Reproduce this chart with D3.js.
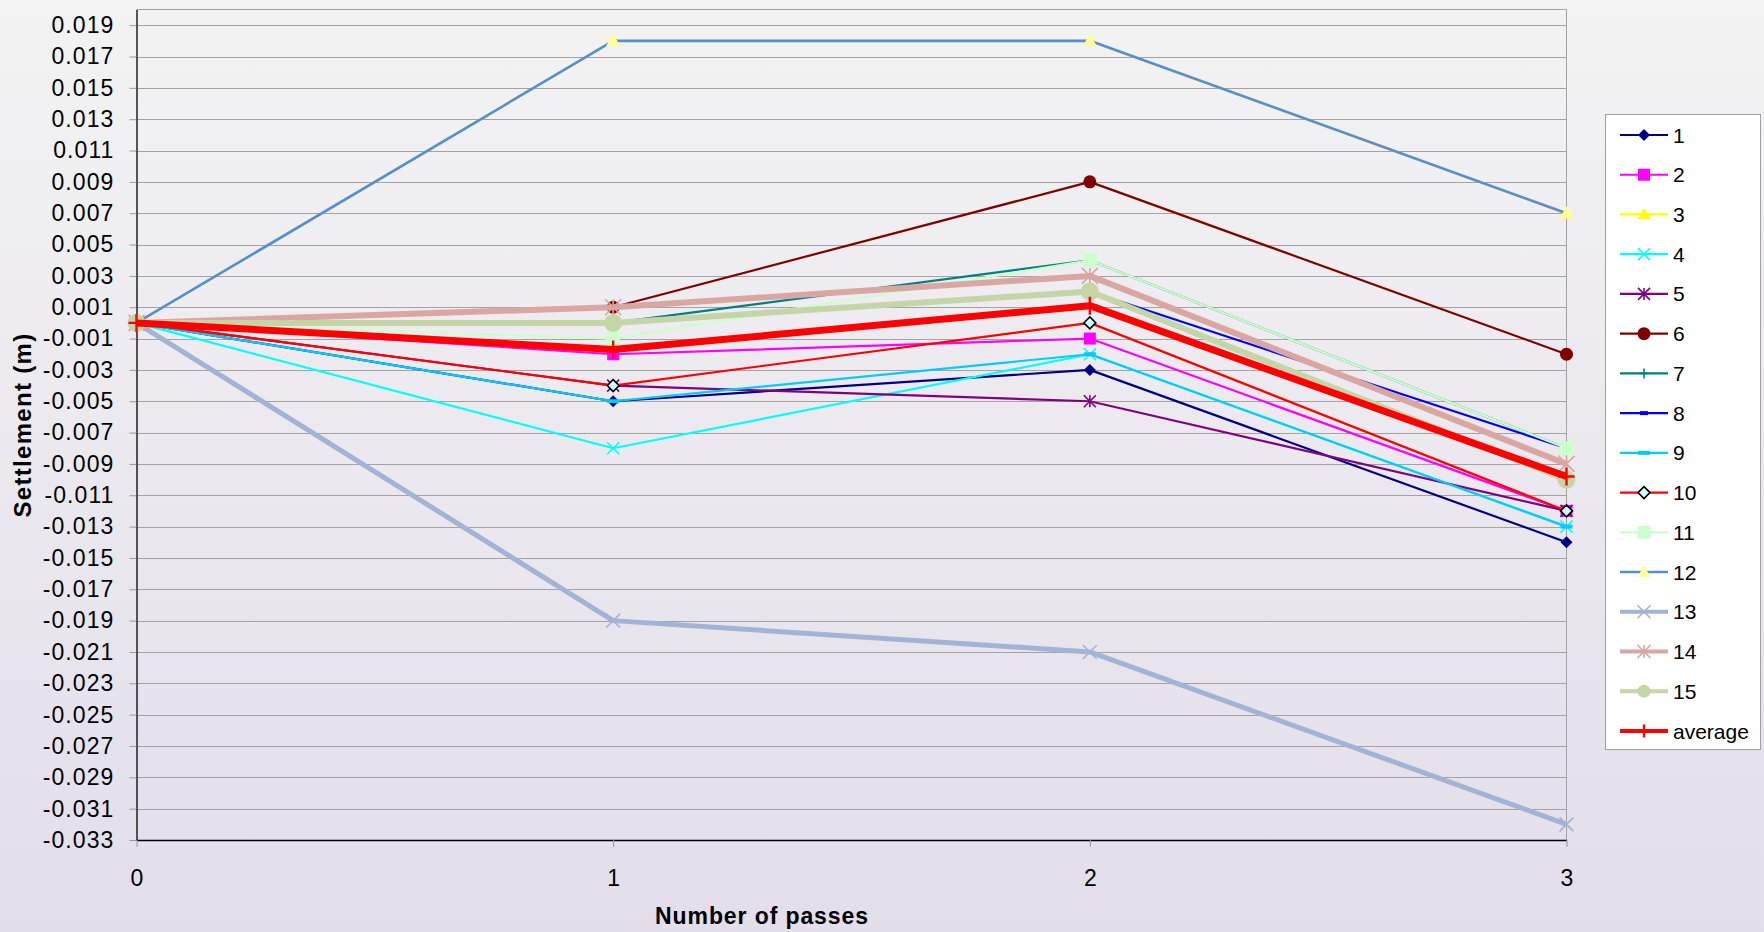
<!DOCTYPE html>
<html>
<head>
<meta charset="utf-8">
<script src="https://cdn.jsdelivr.net/npm/d3@7"></script>
<style>
html,body{margin:0;padding:0;}
svg{display:block;font-family:"Liberation Sans",Arial,sans-serif;}
</style>
</head>
<body>
<svg id="chart" width="1764" height="932"></svg>
<script>
// ---------- data ----------
const passes = [0, 1, 2, 3];
const seriesNames = ["1","2","3","4","5","6","7","8","9","10","11","12","13","14","15","average"];
const s1  = [0, -0.005, -0.003, -0.014];
const s2  = [0, -0.002, -0.001, -0.012];
const s3  = [0, 0.018, 0.018, 0.007];
const s4  = [0, -0.008, -0.002, -0.013];
const s5  = [0, -0.004, -0.005, -0.012];
const s6  = [0, 0.001, 0.009, -0.002];
const s7  = [0, 0.000, 0.004, -0.008];
const s8  = [0, 0.000, 0.002, -0.008];
const s9  = [0, -0.005, -0.002, -0.013];
const s10 = [0, -0.004, 0.000, -0.012];
const s11 = [0, -0.001, 0.004, -0.008];
const s12 = [0, 0.018, 0.018, 0.007];
const s13 = [0, -0.019, -0.021, -0.032];
const s14 = [0, 0.001, 0.003, -0.009];
const s15 = [0, 0.000, 0.002, -0.010];
const sAvg = [0, -0.0017, 0.0011, -0.0098];
const seriesValues = [s1,s2,s3,s4,s5,s6,s7,s8,s9,s10,s11,s12,s13,s14,s15,sAvg];
const yTickValues = d3.range(-33, 20, 2).map(v => v / 1000);
const xTickValues = [0, 1, 2, 3];
const xTitle = "Number of passes";
const yTitle = "Settlement (m)";

// ---------- styles ----------
const styles = [
  {line:"#000080", w:2.2, m:"diamond", fill:"#000080", stroke:"none", size:12},
  {line:"#ff00ff", w:2.2, m:"square", fill:"#ff00ff", stroke:"none", size:12},
  {line:"#ffff00", w:2.2, m:"triangle", fill:"#ffff00", stroke:"none", size:14},
  {line:"#00ffff", w:2.2, m:"x", fill:"none", stroke:"#00ffff", size:12},
  {line:"#800080", w:2.2, m:"star", fill:"none", stroke:"#800080", size:12},
  {line:"#800000", w:2.2, m:"circle", fill:"#800000", stroke:"none", size:13},
  {line:"#008080", w:2.2, m:"plus", fill:"none", stroke:"#008080", size:10},
  {line:"#0000ff", w:2.2, m:"dash", fill:"#0000ff", stroke:"none", size:8},
  {line:"#00ccff", w:2.2, m:"dash", fill:"#00ccff", stroke:"none", size:12},
  {line:"#ff0000", w:2.2, m:"diamond", fill:"#ccffff", stroke:"#000000", size:12},
  {line:"#ccffcc", w:2.2, m:"square", fill:"#ccffcc", stroke:"none", size:14},
  {line:"#558ed5", w:2.6, m:"triangle", fill:"#ffff99", stroke:"none", size:14},
  {line:"#a3b3d6", w:5, m:"x", fill:"none", stroke:"#a3b3d6", size:14},
  {line:"#d9a6a2", w:6, m:"star", fill:"none", stroke:"#d9a6a2", size:16},
  {line:"#c4d5a6", w:6, m:"circle", fill:"#c4d5a6", stroke:"none", size:18},
  {line:"#ff0000", w:7, m:"plus", fill:"none", stroke:"#ff0000", size:18}
];

const svg = d3.select("#chart");
const W = 1764, H = 932;

// background gradient
const defs = svg.append("defs");
const grad = defs.append("linearGradient").attr("id","bg").attr("x1",0).attr("y1",0).attr("x2",0).attr("y2",1);
grad.append("stop").attr("offset","0%").attr("stop-color","#f3f3f3");
grad.append("stop").attr("offset","100%").attr("stop-color","#e3deea");
svg.append("rect").attr("width",W).attr("height",H).attr("fill","url(#bg)");

const plot = {left:136.5, right:1566.5, top:9.5, bottom:840};
const x = d3.scaleLinear().domain([0,3]).range([plot.left, plot.right]);
const y = d3.scaleLinear().domain([-0.033, 0.020]).range([plot.bottom, plot.top]);

const fmt = d3.formatLocale({decimal:".", thousands:",", grouping:[3], currency:["",""], minus:"-"}).format(".3f");

// gridlines
svg.append("g").selectAll("line").data(yTickValues).join("line")
  .attr("x1", plot.left).attr("x2", plot.right)
  .attr("y1", d => Math.round(y(d)) + 0.5).attr("y2", d => Math.round(y(d)) + 0.5)
  .attr("stroke", "#a3a3a3").attr("stroke-width", 1);
// plot border top/right
svg.append("path")
  .attr("d", `M${plot.left},${plot.top}H${plot.right}V${plot.bottom}`)
  .attr("fill","none").attr("stroke","#a3a3a3").attr("stroke-width",1);

// axes
const yAxis = svg.append("g").attr("transform", `translate(${plot.left},0)`)
  .call(d3.axisLeft(y).tickValues(yTickValues).tickFormat(fmt).tickSize(7).tickSizeOuter(0).tickPadding(15));
yAxis.selectAll(".tick line").attr("stroke","#999");
yAxis.select(".domain").attr("stroke","#000").attr("stroke-width",1.3);
yAxis.selectAll("text").attr("font-size", 23).attr("letter-spacing", "1.1px").attr("fill","#000")
  .attr("font-family","Liberation Sans, Arial, sans-serif");

const xAxis = svg.append("g").attr("transform", `translate(0,${plot.bottom})`)
  .call(d3.axisBottom(x).tickValues(xTickValues).tickFormat(d3.format("d")).tickSize(7).tickSizeOuter(0).tickPadding(23));
xAxis.selectAll(".tick line").attr("stroke","#999");
xAxis.select(".domain").attr("stroke","#000").attr("stroke-width",1.3);
xAxis.selectAll("text").attr("font-size", 23).attr("fill","#000").attr("font-family","Liberation Sans, Arial, sans-serif");

// titles
svg.append("text").attr("x", 762).attr("y", 924).attr("text-anchor","middle")
  .attr("font-size", 23).attr("letter-spacing","0.9px").attr("font-weight","bold").text(xTitle);
svg.append("text").attr("transform","translate(31,425) rotate(-90)").attr("text-anchor","middle")
  .attr("font-size", 24).attr("letter-spacing","1.3px").attr("font-weight","bold").text(yTitle);

// marker drawer
function drawMarker(g, cx, cy, st) {
  const s = st.size, h = s / 2;
  switch (st.m) {
    case "diamond":
      g.append("path").attr("d", `M${cx},${cy-h}L${cx+h},${cy}L${cx},${cy+h}L${cx-h},${cy}Z`)
        .attr("fill", st.fill).attr("stroke", st.stroke === "none" ? "none" : st.stroke).attr("stroke-width", 1.6);
      break;
    case "square":
      g.append("rect").attr("x", cx-h).attr("y", cy-h).attr("width", s).attr("height", s).attr("fill", st.fill);
      break;
    case "triangle":
      g.append("path").attr("d", `M${cx},${cy-h}L${cx+h},${cy+h*0.75}L${cx-h},${cy+h*0.75}Z`).attr("fill", st.fill);
      break;
    case "circle":
      g.append("circle").attr("cx", cx).attr("cy", cy).attr("r", h).attr("fill", st.fill);
      break;
    case "x":
      g.append("path").attr("d", `M${cx-h},${cy-h}L${cx+h},${cy+h}M${cx-h},${cy+h}L${cx+h},${cy-h}`)
        .attr("stroke", st.stroke).attr("stroke-width", 1.6).attr("fill","none");
      break;
    case "star":
      g.append("path").attr("d", `M${cx-h},${cy-h}L${cx+h},${cy+h}M${cx-h},${cy+h}L${cx+h},${cy-h}M${cx},${cy-h}L${cx},${cy+h}`)
        .attr("stroke", st.stroke).attr("stroke-width", 1.6).attr("fill","none");
      break;
    case "plus":
      g.append("path").attr("d", `M${cx-h*0.9},${cy}L${cx+h*0.9},${cy}M${cx},${cy-h}L${cx},${cy+h}`)
        .attr("stroke", st.stroke).attr("stroke-width", st.size > 12 ? 2.4 : 1.6).attr("fill","none");
      break;
    case "dash":
      g.append("rect").attr("x", cx-h).attr("y", cy-2).attr("width", s).attr("height", 4).attr("fill", st.fill);
      break;
  }
}

// series
const line = d3.line().x((d,i) => x(passes[i])).y(d => y(d));
const gSeries = svg.append("g");
seriesValues.forEach((vals, k) => {
  const st = styles[k];
  const g = gSeries.append("g");
  g.append("path").attr("d", line(vals)).attr("fill","none").attr("stroke", st.line)
    .attr("stroke-width", st.w).attr("stroke-linejoin","round");
  vals.forEach((v, i) => drawMarker(g, x(passes[i]), y(v), st));
});

// legend
const lg = svg.append("g");
lg.append("rect").attr("x", 1605.5).attr("y", 114.5).attr("width", 155).attr("height", 635)
  .attr("fill","#ffffff").attr("stroke","#a0a0a0").attr("stroke-width",1);
const legY = d3.scaleLinear().domain([0, seriesNames.length-1]).range([135, 731]);
seriesNames.forEach((name, k) => {
  const st = styles[k];
  const cy = legY(k);
  const g = lg.append("g");
  g.append("line").attr("x1",1620).attr("x2",1668).attr("y1",cy).attr("y2",cy)
    .attr("stroke", st.line).attr("stroke-width", Math.min(st.w, 4));
  drawMarker(g, 1644, cy, Object.assign({}, st, {size: Math.min(st.size, 13)}));
  g.append("text").attr("x",1673).attr("y",cy).attr("dy","0.36em").attr("font-size",21).text(name);
});
</script>
</body>
</html>
